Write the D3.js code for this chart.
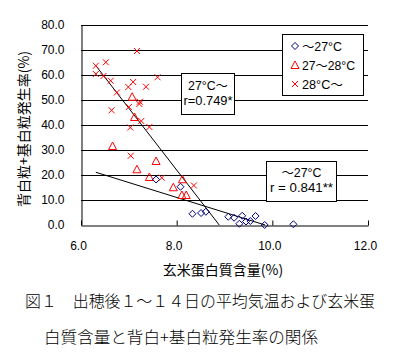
<!DOCTYPE html>
<html>
<head>
<meta charset="utf-8">
<script src="https://cdn.jsdelivr.net/npm/d3@7"></script>
<style>
  html, body { margin: 0; padding: 0; background: #fff; }
  svg { display: block; }
  text { font-family: "Liberation Sans", "Noto Sans CJK JP", sans-serif; fill: #000; }
  .cjk { font-family: "Noto Sans CJK JP", sans-serif; }
</style>
</head>
<body>
<svg id="chart" width="400" height="355"></svg>
<script>
// ---- data ----
const seriesNames = ["～27°C", "27～28°C", "28°C～"];
const lowTempX  = [7.57, 8.08, 8.33, 8.51, 8.61, 9.08, 9.20, 9.37, 9.65, 9.31, 9.45, 9.54, 9.84, 10.44];
const lowTempY  = [18.2, 15.3, 4.5, 4.8, 5.3, 3.3, 2.9, 3.7, 3.6, 0.5, 1.4, 1.6, 0.0, 0.3];
const midTempX  = [7.07, 7.12, 6.66, 7.57, 7.17, 7.43, 8.12, 7.93, 8.11, 8.20];
const midTempY  = [51.3, 43.2, 31.6, 25.6, 22.3, 19.2, 18.3, 15.1, 12.0, 12.0];
const highTempX = [7.17, 6.31, 6.52, 6.31, 6.47, 6.62, 7.60, 7.09, 6.99, 7.36, 6.75, 7.23, 7.22, 6.64, 7.00, 7.26, 7.03, 7.43, 7.04, 7.69, 8.36];
const highTempY = [69.6, 63.7, 65.1, 60.4, 59.6, 57.7, 59.1, 57.2, 55.2, 55.3, 53.0, 49.3, 48.4, 45.9, 47.2, 41.6, 39.0, 39.2, 27.7, 18.9, 15.8];
// regression lines (start / end, data units)
const fitHighX = [6.30, 8.89];
const fitHighY = [64.0, 0.0];
const fitLowX  = [6.31, 9.85];
const fitLowY  = [21.1, 0.0];
const xTicks = [6, 8, 10, 12];
const yTicks = [0, 10, 20, 30, 40, 50, 60, 70, 80];
const xTitle = "玄米蛋白質含量(%)";
const yTitle = "背白粒+基白粒発生率(%)";
const noteHigh = ["27°C～", "r=0.749*"];
const noteLow  = ["～27°C", "r = 0.841**"];
const caption = ["図１　出穂後１～１４日の平均気温および玄米蛋", "白質含量と背白+基白粒発生率の関係"];

// ---- layout ----
const svg = d3.select("#chart");
const x = d3.scaleLinear().domain([6, 12]).range([81, 368]);
const y = d3.scaleLinear().domain([0, 80]).range([225, 25]);
const RED = "#ff0000", NAVY = "#000080";

// gridlines
svg.append("g").selectAll("line").data(yTicks.filter(d => d > 0)).join("line")
  .attr("x1", x(6)).attr("x2", x(12))
  .attr("y1", d => Math.round(y(d)) + 0.5).attr("y2", d => Math.round(y(d)) + 0.5)
  .attr("stroke", "#000").attr("stroke-width", 1);

// x axis
const xAxis = svg.append("g").attr("transform", `translate(0,${Math.round(y(0)) + 0.5})`)
  .call(d3.axisBottom(x).tickValues(xTicks).tickFormat(d3.format(".1f"))
    .tickSizeInner(-5).tickSizeOuter(0).tickPadding(16));
xAxis.select(".domain").attr("stroke", "#000");
xAxis.selectAll(".tick line").attr("stroke", "#000");
xAxis.selectAll(".tick text").attr("font-size", 12).attr("dx", -3)
  .style("font-family", "Liberation Sans, sans-serif");

// y axis
const yAxis = svg.append("g").attr("transform", `translate(${Math.round(x(6)) + 0.5},0)`)
  .call(d3.axisLeft(y).tickValues(yTicks).tickFormat(d3.format(".1f"))
    .tickSize(0).tickPadding(17));
yAxis.select(".domain").attr("stroke", "#000");
yAxis.selectAll(".tick text").attr("font-size", 12)
  .style("font-family", "Liberation Sans, sans-serif");

// axis titles
svg.append("text").attr("class", "cjk").attr("x", 223).attr("y", 275)
  .attr("text-anchor", "middle").attr("font-size", 14).text(xTitle);
svg.append("text").attr("class", "cjk")
  .attr("transform", "translate(29,129) rotate(-90)")
  .attr("text-anchor", "middle").attr("font-size", 14).text(yTitle);

// regression lines
const line = d3.line().x(d => x(d[0])).y(d => y(d[1]));
svg.append("path").datum(d3.zip(fitHighX, fitHighY)).attr("d", line)
  .attr("fill", "none").attr("stroke", "#000").attr("stroke-width", 1);
svg.append("path").datum(d3.zip(fitLowX, fitLowY)).attr("d", line)
  .attr("fill", "none").attr("stroke", "#000").attr("stroke-width", 1);

// marker shapes
const diamondPath = "M0,-3.5L3.5,0L0,3.5L-3.5,0Z";
const trianglePath = "M0,-4L4,3.5L-4,3.5Z";
const crossPath = "M-3,-3L3,3M-3,3L3,-3";

function drawSeries(xs, ys, path, color) {
  svg.append("g").selectAll("path").data(d3.zip(xs, ys)).join("path")
    .attr("transform", d => `translate(${x(d[0])},${y(d[1])})`)
    .attr("d", path).attr("fill", "none").attr("stroke", color).attr("stroke-width", 1);
}
drawSeries(highTempX, highTempY, crossPath, RED);
drawSeries(midTempX, midTempY, trianglePath, RED);
drawSeries(lowTempX, lowTempY, diamondPath, NAVY);

// annotation boxes
function noteBox(bx, by, bw, bh, lines, lineYs, widths) {
  const g = svg.append("g");
  g.append("rect").attr("x", bx + 0.5).attr("y", by + 0.5).attr("width", bw).attr("height", bh)
    .attr("fill", "#fff").attr("stroke", "#000");
  g.selectAll("text").data(lines).join("text")
    .attr("x", bx + bw / 2 + 0.5).attr("y", (d, i) => lineYs[i])
    .attr("text-anchor", "middle").attr("font-size", 13)
    .attr("textLength", (d, i) => widths[i]).attr("lengthAdjust", "spacingAndGlyphs")
    .text(d => d);
}
noteBox(181, 73, 53, 41, noteHigh, [90, 105], [40, 49]);
noteBox(266, 161, 70, 40, noteLow, [177, 192], [40, 63]);

// legend
const lg = svg.append("g");
lg.append("rect").attr("x", 282.5).attr("y", 34.5).attr("width", 81).attr("height", 61)
  .attr("fill", "#fff").attr("stroke", "#000");
const legendShapes = [[diamondPath, NAVY], [trianglePath, RED], [crossPath, RED]];
const legendY = [46, 65, 84];
const legendW = [40, 53, 41];
seriesNames.forEach((name, i) => {
  lg.append("path").attr("transform", `translate(295,${legendY[i]})`)
    .attr("d", legendShapes[i][0]).attr("fill", "none").attr("stroke", legendShapes[i][1]);
  lg.append("text").attr("x", 302).attr("y", legendY[i] + 5).attr("font-size", 13)
    .attr("textLength", legendW[i]).attr("lengthAdjust", "spacingAndGlyphs").text(name);
});

// caption
svg.append("text").attr("class", "cjk").attr("x", 25).attr("y", 307).attr("font-size", 16)
  .attr("font-weight", 300)
  .attr("textLength", 350).attr("lengthAdjust", "spacingAndGlyphs").text(caption[0]);
svg.append("text").attr("class", "cjk").attr("x", 44).attr("y", 343).attr("font-size", 16)
  .attr("font-weight", 300)
  .attr("textLength", 274).attr("lengthAdjust", "spacingAndGlyphs").text(caption[1]);
</script>
</body>
</html>
